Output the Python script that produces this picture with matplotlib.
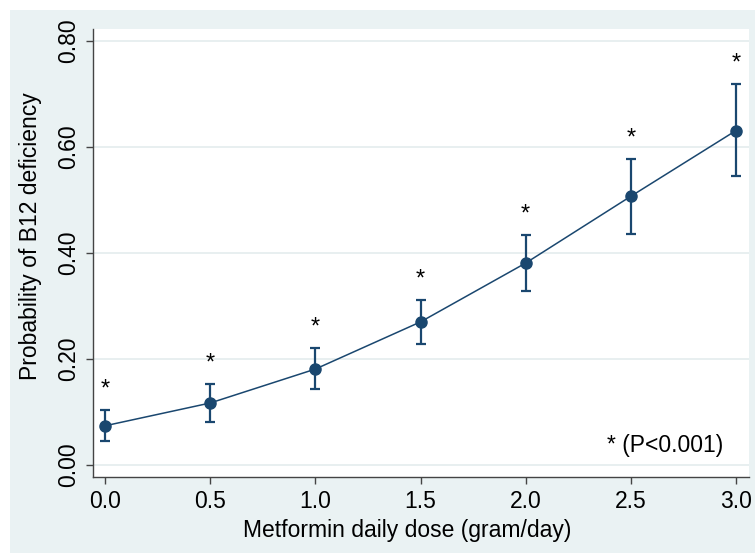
import matplotlib
matplotlib.use("Agg")
import matplotlib.pyplot as plt
from matplotlib.patches import Rectangle

plt.rcParams['font.family'] = ['Liberation Sans', 'DejaVu Sans']

# doza metformina (g/dan) i vjerojatnost manjka B12
doza = [0.0, 0.5, 1.0, 1.5, 2.0, 2.5, 3.0]
vjerojatnost = [0.074, 0.117, 0.181, 0.270, 0.381, 0.507, 0.631]
donja = [0.045, 0.082, 0.143, 0.228, 0.328, 0.436, 0.545]
gornja = [0.104, 0.152, 0.220, 0.312, 0.434, 0.578, 0.718]
oznaka = ["*"] * 7

x_ticks = [0.0, 0.5, 1.0, 1.5, 2.0, 2.5, 3.0]
y_ticks = [0.0, 0.2, 0.4, 0.6, 0.8]

plava = "#1a476f"
pozadina = "#eaf2f3"

fig = plt.figure(figsize=(7.55, 5.53), dpi=100)
fig.patches.append(Rectangle((10 / 755, 0), 745 / 755, 543 / 553,
                             transform=fig.transFigure, facecolor=pozadina,
                             edgecolor="none", zorder=-5))

ax = fig.add_axes([93 / 755, 76 / 553, 656 / 755, 448 / 553])
ax.set_zorder(2)
ax.set_facecolor("white")

err_d = [v - d for v, d in zip(vjerojatnost, donja)]
err_g = [g - v for v, g in zip(vjerojatnost, gornja)]
ax.errorbar(doza, vjerojatnost, yerr=[err_d, err_g], color=plava,
            marker="o", markersize=8, linewidth=1.1, elinewidth=1.6,
            capsize=3.3, capthick=1.6, zorder=3)

for x, g, t in zip(doza, gornja, oznaka):
    ax.annotate(t, (x, g), xytext=(0, 10.5), textcoords="offset points",
                ha="center", va="baseline", fontsize=17, color="black")

ax.text(0.961, 0.071, "* (P<0.001)", transform=ax.transAxes,
        ha="right", va="center", fontsize=16.5)

ax.set_xlim(-0.0571, 3.0618)
ax.set_ylim(-0.0226, 0.8226)
ax.set_xticks(x_ticks)
ax.set_xticklabels([f"{v:.1f}" for v in x_ticks], fontsize=16.5)
ax.set_yticks(y_ticks)
ax.set_yticklabels([f"{v:.2f}" for v in y_ticks], fontsize=16.5,
                   rotation=90, va="center")
ax.grid(axis="y", color="#e4eced", linewidth=1.2)
ax.set_axisbelow(True)

for s in ["top", "right"]:
    ax.spines[s].set_visible(False)
for s in ["left", "bottom"]:
    ax.spines[s].set_color("#444444")
    ax.spines[s].set_linewidth(1.0)
ax.tick_params(direction="out", length=5, width=1, color="#444444",
               labelcolor="black", pad=4)

fig.text(407.5 / 755, 1 - 531 / 553, "Metformin daily dose (gram/day)",
         ha="center", va="center", fontsize=16.5)
fig.text(30.5 / 755, 1 - 236 / 553, "Probability of B12 deficiency",
         ha="center", va="center", rotation=90, fontsize=16.5)

fig.savefig("out.png", dpi=100)
